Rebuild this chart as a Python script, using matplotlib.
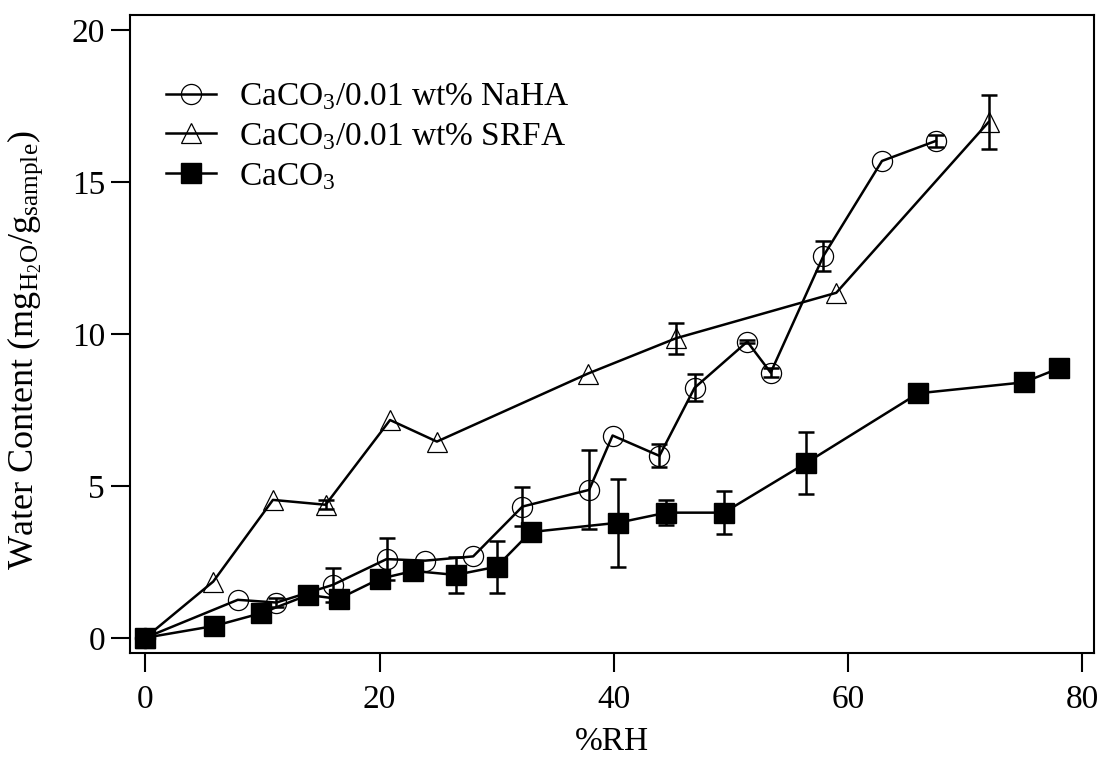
import numpy as np
import matplotlib
matplotlib.use("Agg")
import matplotlib.pyplot as plt

# Water uptake isotherms (%RH vs mg H2O / g sample)
rh_naha = [0, 7.9, 11.2, 16.0, 20.6, 23.9, 28.0, 32.2, 37.9, 39.9, 43.9, 46.9, 51.4, 53.4, 57.9, 62.9, 67.5]
wc_naha = [0, 1.25, 1.16, 1.74, 2.59, 2.54, 2.68, 4.32, 4.87, 6.66, 5.99, 8.23, 9.75, 8.73, 12.57, 15.7, 16.36]
err_naha = [0, 0, 0.15, 0.57, 0.7, 0, 0, 0.65, 1.3, 0, 0.38, 0.45, 0.05, 0.15, 0.48, 0, 0.2]

rh_srfa = [0, 5.8, 10.9, 15.4, 20.9, 24.9, 37.8, 45.3, 59.0, 72.0]
wc_srfa = [0, 1.85, 4.54, 4.38, 7.17, 6.46, 8.7, 9.86, 11.36, 16.98]
err_srfa = [0, 0, 0, 0.15, 0, 0, 0, 0.5, 0, 0.9]

rh_caco3 = [0, 5.9, 9.9, 13.9, 16.5, 20.0, 22.9, 26.5, 30.0, 32.9, 40.4, 44.5, 49.4, 56.4, 66.0, 75.0, 78.0]
wc_caco3 = [0, 0.39, 0.81, 1.41, 1.28, 1.94, 2.2, 2.07, 2.34, 3.48, 3.79, 4.12, 4.12, 5.75, 8.05, 8.41, 8.87]
err_caco3 = [0, 0, 0, 0, 0, 0, 0, 0.6, 0.85, 0, 1.45, 0.42, 0.7, 1.03, 0, 0, 0]

labels = [r"CaCO$_3$/0.01 wt% NaHA", r"CaCO$_3$/0.01 wt% SRFA", r"CaCO$_3$"]

plt.rcParams["font.family"] = "Liberation Serif"
plt.rcParams["mathtext.fontset"] = "custom"
plt.rcParams["mathtext.rm"] = "Liberation Serif"
plt.rcParams["mathtext.it"] = "Liberation Serif:italic"

fig = plt.figure(figsize=(11.02, 7.59), dpi=100)
ax = fig.add_axes([0.118, 0.1397, 0.8747, 0.8403])


def errbars(x, y, e):
    x = np.asarray(x)
    y = np.asarray(y)
    e = np.asarray(e)
    m = e > 0
    ax.errorbar(x[m], y[m], yerr=e[m], fmt="none", ecolor="black",
                elinewidth=1.8, capsize=6, capthick=1.8, zorder=2)


errbars(rh_naha, wc_naha, err_naha)
errbars(rh_srfa, wc_srfa, err_srfa)
errbars(rh_caco3, wc_caco3, err_caco3)

ax.plot(rh_naha, wc_naha, "-o", color="black", lw=1.8, ms=14.5,
        mfc="none", mec="black", mew=0.9, label=labels[0], zorder=3)
ax.plot(rh_srfa, wc_srfa, "-^", color="black", lw=1.8, ms=14,
        mfc="none", mec="black", mew=0.9, label=labels[1], zorder=3)
ax.plot(rh_caco3, wc_caco3, "-s", color="black", lw=1.8, ms=14,
        mfc="black", mec="black", label=labels[2], zorder=4)

ax.set_xlim(-1.3, 81)
ax.set_ylim(-0.5, 20.5)
ax.set_xticks([0, 20, 40, 60, 80])
ax.set_yticks([0, 5, 10, 15, 20])
ax.tick_params(direction="out", length=14, width=1.5, labelsize=24)
ax.tick_params(axis="x", pad=9)
ax.tick_params(axis="y", pad=4)
for s in ax.spines.values():
    s.set_linewidth(1.5)

ax.set_xlabel("%RH", fontsize=24)
ax.set_ylabel(r"Water Content (mg$_{\mathrm{H_2O}}$/g$_{\mathrm{sample}}$)", fontsize=26)
ax.xaxis.set_label_coords(0.5, -0.115)
ax.yaxis.set_label_coords(-0.088, 0.475)

ax.legend(loc="upper left", frameon=False, fontsize=24, handlelength=1.5,
          handletextpad=0.7, labelspacing=0.27, bbox_to_anchor=(0.023, 0.917),
          borderaxespad=0)

fig.savefig("out.png", dpi=100)
